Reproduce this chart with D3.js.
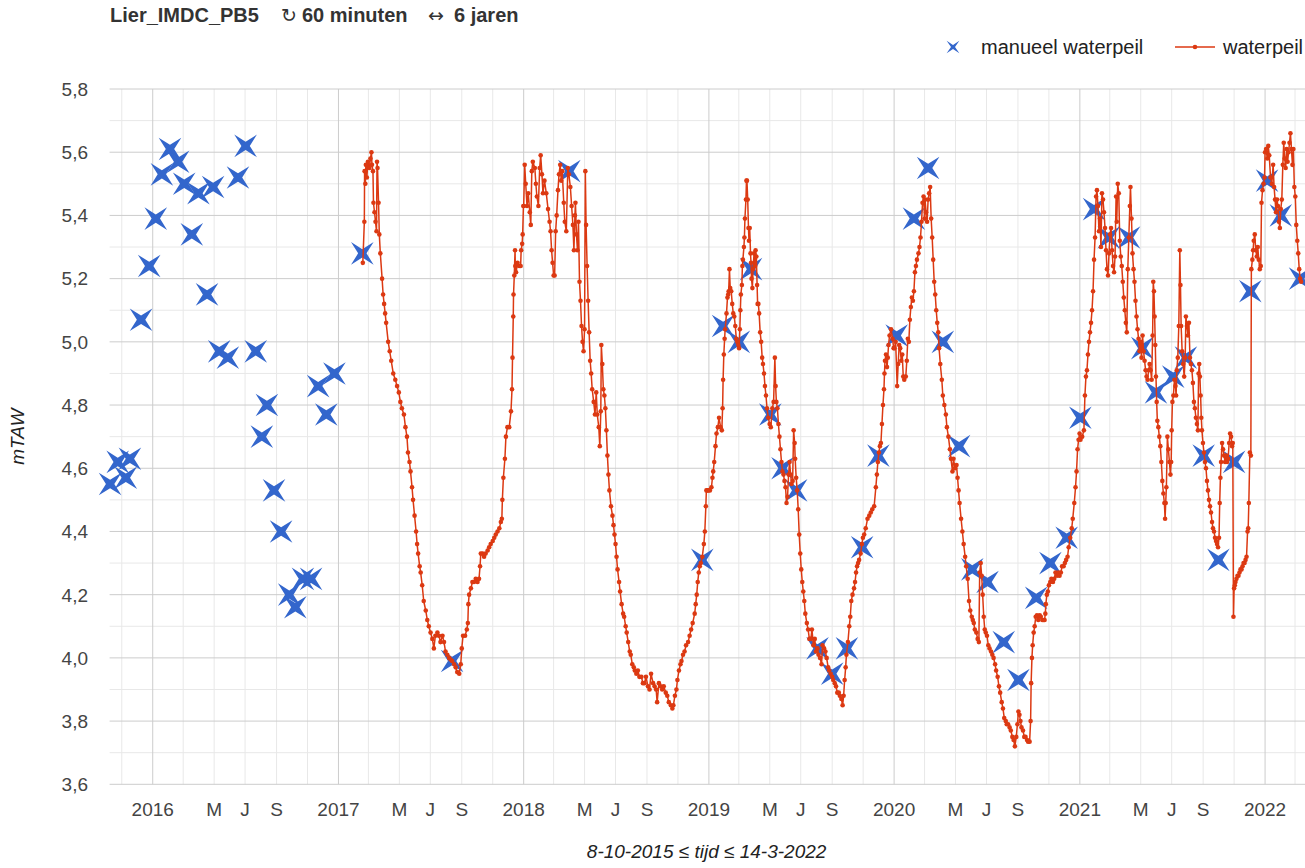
<!DOCTYPE html>
<html><head><meta charset="utf-8">
<script src="https://cdn.jsdelivr.net/npm/d3@7"></script>
<style>
body{margin:0;background:#fff;}
svg{display:block;font-family:"Liberation Sans",Arial,sans-serif;}
</style>
</head><body>
<svg id="chart" width="1305" height="868"></svg>
<script>
// ---------- texts ----------
const titleName = "Lier_IMDC_PB5";
const titleSymbols = ["\u21BB", "\u2194"];
const titleTexts = ["60 minuten", "6 jaren"];
const xTitle = "8-10-2015 \u2264 tijd \u2264 14-3-2022";
const yTitle = "mTAW";
const seriesNames = ["manueel waterpeil", "waterpeil"];

// ---------- axes ----------
const xDomain = ["2015-10-08", "2022-03-14"];
const yDomain = [3.6, 5.8];
const yTickValues = [3.6, 3.8, 4.0, 4.2, 4.4, 4.6, 4.8, 5.0, 5.2, 5.4, 5.6, 5.8];
const xTickDates = ["2016-01-01","2016-05-01","2016-07-01","2016-09-01",
  "2017-01-01","2017-05-01","2017-07-01","2017-09-01",
  "2018-01-01","2018-05-01","2018-07-01","2018-09-01",
  "2019-01-01","2019-05-01","2019-07-01","2019-09-01",
  "2020-01-01","2020-05-01","2020-07-01","2020-09-01",
  "2021-01-01","2021-05-01","2021-07-01","2021-09-01",
  "2022-01-01"];
const xTickLabels = ["2016","M","J","S","2017","M","J","S","2018","M","J","S",
  "2019","M","J","S","2020","M","J","S","2021","M","J","S","2022"];

// ---------- series: manueel waterpeil ----------
const manueelDates = ["2015-10-09","2015-10-24","2015-11-09","2015-11-17","2015-12-09","2015-12-25",
  "2016-01-07","2016-01-19","2016-02-04","2016-02-20","2016-03-03","2016-03-18","2016-03-31",
  "2016-04-17","2016-04-29","2016-05-11","2016-05-28","2016-06-17","2016-07-02","2016-07-22",
  "2016-08-03","2016-08-13","2016-08-27","2016-09-10","2016-09-26","2016-10-08","2016-10-23",
  "2016-11-08","2016-11-22","2016-12-08","2016-12-24","2017-02-17","2017-08-13","2018-04-01",
  "2018-12-19","2019-01-29","2019-03-01","2019-03-25","2019-05-02","2019-05-26","2019-06-22",
  "2019-08-03","2019-09-01","2019-09-30","2019-10-30","2019-12-01","2020-01-06","2020-02-09",
  "2020-03-08","2020-04-06","2020-05-08","2020-06-03","2020-07-03","2020-08-04","2020-09-02",
  "2020-10-07","2020-11-04","2020-12-06","2021-01-02","2021-01-29","2021-02-27","2021-04-08",
  "2021-05-04","2021-05-31","2021-07-04","2021-07-29","2021-09-02","2021-10-01","2021-11-01",
  "2021-12-03","2022-01-05","2022-02-01","2022-03-11"];
const manueelValues = [4.55,4.62,4.57,4.63,5.07,5.24,
  5.39,5.53,5.61,5.57,5.50,5.34,5.47,
  5.15,5.49,4.97,4.95,5.52,5.62,4.97,
  4.70,4.80,4.53,4.40,4.20,4.16,4.25,
  4.25,4.86,4.77,4.90,5.28,3.99,5.54,
  4.31,5.05,5.00,5.23,4.77,4.60,4.53,
  4.03,3.95,4.03,4.35,4.64,5.02,5.39,
  5.55,5.00,4.67,4.28,4.24,4.05,3.93,
  4.19,4.30,4.38,4.76,5.42,5.33,5.33,
  4.98,4.84,4.89,4.95,4.64,4.31,4.62,
  5.16,5.51,5.40,5.20];

// ---------- series: waterpeil, [day of year, mTAW] per year ----------
const waterpeil2017 = [[48,5.25],[51,5.38],[51.5,5.54],[53,5.50],[54,5.56],[56,5.52],[58,5.57],[61,5.55],[63,5.58],[65,5.60],[66,5.56],[68,5.54],[69,5.44],[71,5.41],[73,5.38],[75,5.35],[76,5.57],[77,5.55],[79,5.44],[80.5,5.34],[82.5,5.28],[86,5.20],[88,5.15],[90,5.12],[92,5.09],[94,5.06],[98,5.00],[101,4.97],[104,4.94],[108,4.90],[112,4.88],[115.5,4.86],[119,4.84],[122,4.81],[125,4.79],[129,4.77],[132,4.73],[135,4.70],[137,4.65],[140,4.62],[142,4.59],[145,4.54],[147,4.50],[150,4.45],[153,4.40],[155,4.36],[157,4.33],[160,4.29],[162,4.27],[165,4.23],[168,4.18],[172,4.15],[175,4.12],[178,4.10],[181.5,4.08],[185,4.06],[188,4.03],[191,4.07],[195,4.08],[198,4.07],[201,4.05],[205,4.07],[208,4.05],[211,4.02],[214.5,4.01],[218,4.00],[221,3.995],[224,3.99],[228,3.98],[231,3.97],[234,3.955],[238,3.95],[241,3.98],[243,4.03],[245.5,4.07],[249.5,4.07],[253,4.09],[255,4.11],[256,4.17],[257.5,4.20],[261,4.22],[264,4.24],[267,4.24],[270.5,4.25],[274,4.24],[277,4.25],[279,4.29],[280.5,4.33],[284,4.33],[287,4.32],[290,4.33],[294,4.34],[297,4.35],[300,4.36],[304,4.37],[307,4.38],[310,4.39],[313.5,4.40],[317,4.41],[320,4.43],[322,4.44],[323,4.50],[325,4.57],[328,4.63],[330,4.70],[333,4.73],[336.5,4.73],[340,4.78],[342,4.85],[343,4.95],[344.5,5.08],[345,5.15],[346.5,5.21],[348,5.29],[348.5,5.24],[350,5.22],[353,5.25],[356,5.24],[359,5.24],[360,5.29],[362,5.31],[363,5.34],[364.5,5.43]];
const waterpeil2018 = [[0,5.43],[2,5.56],[4,5.50],[6.6,5.43],[9,5.47],[12,5.41],[14,5.37],[16,5.54],[18,5.57],[22,5.55],[24,5.50],[26,5.46],[29,5.43],[31.5,5.55],[33.5,5.59],[36,5.53],[38,5.47],[41,5.51],[44.6,5.47],[48,5.42],[51,5.38],[53,5.35],[55,5.29],[57,5.25],[59,5.21],[61,5.21],[63,5.35],[65,5.40],[67.6,5.48],[69.6,5.53],[72,5.56],[74,5.51],[76,5.54],[79,5.44],[81,5.38],[84,5.35],[87,5.55],[89,5.53],[92,5.49],[94.5,5.43],[97,5.37],[99,5.29],[101,5.40],[102,5.44],[104,5.34],[106,5.29],[108,5.38],[110,5.19],[112,5.13],[114,5.05],[116,5.00],[118,4.97],[120,5.04],[121.5,5.54],[123,5.37],[125,5.24],[127,5.13],[129,5.03],[131,4.94],[133,4.90],[135,4.85],[138,4.81],[140.5,4.77],[143,4.84],[145,4.77],[148,4.73],[150,4.67],[152,4.78],[153,4.99],[155,4.93],[157,4.85],[159,4.83],[161,4.79],[163,4.72],[165,4.64],[167,4.58],[169,4.53],[172,4.48],[175,4.45],[177,4.42],[179,4.39],[181,4.36],[183,4.32],[185,4.28],[188,4.24],[190,4.21],[193,4.17],[196,4.14],[198,4.13],[201,4.10],[203,4.08],[206,4.05],[209,4.02],[211,4.01],[214,3.98],[217,3.97],[219,3.96],[222,3.95],[225,3.96],[228,3.94],[232,3.94],[235,3.92],[238,3.92],[241,3.94],[245,3.91],[248,3.90],[251,3.95],[255,3.92],[258,3.91],[261,3.90],[263,3.86],[266.5,3.92],[270,3.91],[273,3.90],[276,3.91],[280,3.89],[283,3.88],[286,3.86],[290,3.85],[293,3.84],[295,3.85],[298,3.88],[301,3.90],[303,3.93],[306,3.96],[309,3.98],[311,3.99],[314,4.01],[317,4.02],[320,4.04],[324,4.05],[327,4.07],[330,4.09],[333,4.11],[337,4.14],[339,4.17],[341,4.20],[343,4.24],[345,4.27],[347,4.29],[349,4.30],[352,4.32],[355,4.36],[357,4.40],[359,4.48],[360,4.53],[362,4.53],[364,4.53]];
const waterpeil2019 = [[2,4.53],[5,4.54],[7,4.57],[8.5,4.59],[10.5,4.62],[13,4.67],[15,4.71],[17.7,4.73],[20,4.76],[23,4.73],[25.5,4.72],[27,4.79],[28,4.88],[29.4,4.96],[31,5.01],[32,5.04],[34.7,5.09],[36.6,5.14],[38,5.15],[39,5.16],[40.5,5.23],[42,5.17],[44,5.16],[46,5.12],[48,5.09],[50,5.08],[52,5.05],[54,5.01],[56,5.00],[58,4.99],[59.5,4.98],[61,5.04],[62,5.10],[63,5.15],[65,5.18],[66,5.24],[67,5.26],[69,5.30],[70,5.33],[71,5.39],[73,5.45],[74,5.51],[75,5.51],[76.5,5.45],[78,5.36],[79,5.32],[80.4,5.36],[82,5.28],[83,5.25],[84,5.20],[85.7,5.17],[87,5.23],[89,5.28],[91,5.24],[92,5.29],[93.5,5.27],[95,5.18],[96,5.12],[97.5,5.12],[99,5.09],[101,5.03],[103,5.00],[105,4.95],[106.6,4.93],[108.6,4.90],[110.5,4.86],[112.5,4.83],[114.5,4.79],[117,4.76],[119.7,4.74],[122,4.73],[125,4.79],[127.5,4.81],[130,4.95],[131.5,4.86],[133,4.81],[135,4.79],[137,4.74],[139,4.70],[141,4.66],[143,4.62],[145,4.59],[147,4.58],[149,4.56],[151,4.54],[153,4.49],[155,4.51],[157,4.58],[159,4.62],[161,4.58],[163,4.55],[165,4.56],[167,4.72],[169,4.68],[170,4.63],[172,4.57],[174,4.53],[176,4.47],[178,4.39],[180,4.33],[182,4.28],[184,4.24],[186,4.21],[188,4.18],[190,4.14],[193,4.11],[195.5,4.09],[198,4.06],[201,4.06],[203,4.09],[206,4.04],[208.6,4.06],[211,4.02],[214,4.03],[216,4.01],[219,4.00],[222,3.98],[224,4.04],[227,4.03],[229.6,4.02],[232,4.00],[235,3.97],[237,3.96],[240,3.95],[243,3.94],[245,3.93],[248,3.92],[250.5,3.91],[253,3.89],[256,3.89],[258,3.88],[261,3.87],[263.5,3.85],[265.5,3.88],[267.5,3.93],[269.5,3.97],[271,4.01],[274,4.05],[276.6,4.10],[278.6,4.13],[280.6,4.18],[283,4.20],[286,4.22],[288,4.24],[290,4.27],[292,4.29],[294,4.30],[296,4.31],[299,4.33],[301.5,4.36],[303.5,4.38],[306,4.39],[309,4.41],[312.6,4.44],[316,4.45],[319,4.46],[322,4.47],[325.7,4.48],[329,4.54],[331,4.58],[333,4.62],[335,4.65],[337,4.67],[339,4.68],[341,4.74],[343,4.80],[345,4.85],[346,4.90],[347,4.94],[349,4.96],[351,4.92],[352.5,4.95],[354,4.99],[356,5.02],[359,5.04],[362,5.01],[364,4.98]];
const waterpeil2020 = [[0.6,4.98],[3,5.00],[6,4.86],[8,4.93],[10,4.99],[12,4.98],[14,4.94],[16,4.96],[18,4.89],[20,4.88],[23,4.89],[25,4.94],[27,5.01],[29,5.00],[31,5.07],[33,5.11],[35,5.14],[37,5.13],[39,5.16],[41,5.22],[43,5.24],[45,5.26],[48,5.28],[50,5.30],[52,5.33],[54,5.38],[56,5.44],[58,5.46],[60,5.39],[61,5.45],[63,5.41],[65,5.38],[67,5.45],[69,5.47],[71,5.49],[73,5.39],[75,5.33],[77,5.26],[79,5.19],[81,5.15],[83,5.10],[85,5.06],[87,5.03],[88.6,4.98],[91,4.93],[94,4.88],[96,4.83],[99,4.80],[102,4.77],[104,4.73],[107,4.70],[110,4.66],[112,4.63],[115,4.59],[117,4.63],[120,4.60],[123,4.61],[125,4.57],[127,4.53],[129,4.49],[132,4.44],[134.5,4.40],[137,4.36],[140,4.32],[142,4.29],[145,4.25],[147.6,4.18],[150,4.15],[153,4.13],[155,4.12],[157,4.11],[159,4.09],[162,4.08],[164.6,4.06],[167,4.05],[168.6,4.27],[170.6,4.30],[172.5,4.26],[174.5,4.20],[176.6,4.13],[178.6,4.09],[180.6,4.08],[183,4.07],[185.6,4.04],[188,4.03],[191,4.02],[193.5,4.01],[196,4.00],[199,3.98],[201,3.96],[204,3.94],[206.6,3.91],[209,3.89],[212,3.86],[214.5,3.84],[217,3.81],[220,3.80],[222,3.79],[224.6,3.79],[227.6,3.78],[230,3.77],[233,3.75],[235.5,3.74],[238,3.72],[240.7,3.75],[243,3.79],[245,3.83],[247,3.82],[249,3.80],[251,3.78],[254,3.77],[256.5,3.75],[259,3.75],[262,3.74],[264,3.735],[267,3.735],[269,3.80],[270,3.92],[271.6,4.00],[273,4.04],[275,4.08],[277,4.10],[279,4.13],[281.5,4.135],[284,4.12],[287,4.135],[289,4.13],[292,4.12],[294.5,4.12],[296.5,4.12],[298,4.14],[299,4.17],[301,4.20],[303,4.21],[305,4.23],[307.7,4.24],[310,4.25],[313,4.24],[315.5,4.25],[318,4.27],[321,4.26],[323.5,4.27],[326,4.26],[328.6,4.27],[331,4.29],[334,4.29],[336.5,4.30],[339,4.31],[341.8,4.32],[344,4.35],[347,4.38],[350,4.41],[352,4.44],[355,4.49],[357.5,4.54],[359.5,4.59],[361.5,4.66],[363.5,4.69],[365.5,4.71]];
const waterpeil2021 = [[1.3,4.69],[4.6,4.70],[8,4.72],[10,4.83],[12,4.89],[14,4.91],[16,4.96],[18,5.00],[20,5.03],[22,5.06],[24,5.10],[26,5.16],[28,5.26],[30,5.33],[32,5.46],[33.7,5.48],[35.7,5.43],[37.7,5.35],[39.7,5.39],[41.6,5.30],[43.6,5.47],[45.6,5.45],[47.6,5.41],[49.6,5.36],[51.6,5.29],[53.5,5.23],[55.5,5.21],[57.5,5.28],[59.5,5.34],[61.5,5.36],[63.5,5.29],[65.4,5.24],[67.4,5.22],[69.4,5.27],[71.4,5.46],[72.7,5.38],[74.7,5.50],[76.7,5.47],[78.7,5.32],[80.6,5.27],[82.6,5.24],[84.6,5.19],[86.6,5.14],[88.6,5.10],[90.6,5.06],[92.5,5.03],[94.5,5.23],[96.5,5.33],[98.5,5.43],[99.8,5.49],[101.8,5.39],[103.8,5.28],[105.8,5.23],[107.7,5.19],[109.7,5.13],[111.7,5.08],[113.7,5.04],[115.7,5.01],[117.7,4.97],[119.6,5.00],[121.6,4.95],[123.6,5.02],[125.6,4.97],[127.6,4.94],[129.6,4.91],[131.5,4.89],[133.5,4.88],[135.5,4.91],[137.5,4.93],[139.5,4.91],[141.5,4.88],[143.4,5.02],[144.7,5.19],[146,5.16],[147.4,5.08],[148.7,4.99],[150,4.89],[151.4,4.81],[152.7,4.75],[154.7,4.73],[156.6,4.70],[158.6,4.67],[160.6,4.62],[162.6,4.56],[164.6,4.52],[166.6,4.49],[168,4.44],[169.2,4.49],[170.5,4.54],[172.5,4.70],[174.5,4.66],[176.5,4.62],[178.5,4.58],[180,4.62],[181,4.72],[182.4,4.81],[184.4,4.83],[186.4,4.88],[188.4,4.86],[189.7,4.83],[191,4.91],[193,4.95],[195,5.05],[197,5.29],[198.3,5.18],[199.6,5.05],[201.6,4.97],[203.6,4.93],[205.6,4.89],[207.6,4.95],[209,5.08],[211,5.05],[213,5.02],[215,5.06],[217,4.95],[218.8,4.93],[220.8,4.91],[222.8,4.87],[224.8,4.81],[226.7,4.79],[228.7,4.76],[230.7,4.74],[232.7,4.72],[234,4.90],[235.3,4.93],[236.6,4.89],[238,4.83],[239.3,4.76],[240.6,4.72],[242.6,4.68],[244.6,4.65],[246.6,4.62],[248.6,4.60],[250.5,4.56],[252.5,4.53],[254.5,4.50],[256.5,4.48],[258.5,4.46],[260.5,4.43],[262.4,4.41],[264.4,4.40],[266.4,4.38],[268.4,4.37],[270.4,4.36],[272.3,4.35],[274.3,4.38],[275.6,4.49],[277,4.57],[278.3,4.62],[280.3,4.68],[282.2,4.66],[284.2,4.64],[286.2,4.62],[288.2,4.64],[290.2,4.62],[292.2,4.63],[294.2,4.68],[296.1,4.71],[298,4.70],[300,4.67],[301.4,4.68],[302.7,4.13],[304,4.22],[305.4,4.23],[306.7,4.24],[308.7,4.25],[310.7,4.26],[312.6,4.26],[314.6,4.27],[316.6,4.28],[318.6,4.28],[320.6,4.29],[322.6,4.30],[324.6,4.30],[326.5,4.31],[328.5,4.32],[330.5,4.40],[331.8,4.41],[333,4.49],[335,4.65],[337,4.64],[338,5.23],[340,5.26],[341.4,5.29],[342.7,5.32],[344.7,5.34],[346.7,5.29],[348.7,5.27],[350.6,5.30],[352.6,5.26],[354.6,5.23],[356.6,5.24],[358,5.44],[360,5.48],[362,5.50],[364,5.52]];
const waterpeil2022 = [[0,5.60],[2,5.61],[4.4,5.58],[6.3,5.62],[8.2,5.59],[10.8,5.52],[13.3,5.50],[15.9,5.56],[17.8,5.49],[19.7,5.45],[21.6,5.41],[23.5,5.45],[25.4,5.43],[27.3,5.38],[29.2,5.36],[31,5.42],[33,5.45],[35,5.56],[36.8,5.63],[38.7,5.58],[40.6,5.55],[42.5,5.61],[44.4,5.57],[46.3,5.60],[48.2,5.63],[50,5.66],[52,5.61],[54,5.56],[55.8,5.61],[57.7,5.49],[59.6,5.46],[61.5,5.37],[63.5,5.32],[65.4,5.28],[67.3,5.23],[69.2,5.20],[71,5.19]];

// ---------- build ----------
const DAY = 86400000;
const parse = s => new Date(s + "T00:00:00Z");
const manueel = manueelDates.map((d, i) => ({t: parse(d), v: manueelValues[i]}));
const yearly = [[2017, waterpeil2017],[2018, waterpeil2018],[2019, waterpeil2019],
                [2020, waterpeil2020],[2021, waterpeil2021],[2022, waterpeil2022]];
const waterpeil = [];
yearly.forEach(([yr, arr]) => arr.forEach(([d, v]) =>
  waterpeil.push({t: new Date(Date.UTC(yr, 0, 1) + d * DAY), v})));

const W = 1305, H = 868;
const plot = {left: 109.6, right: 1301.6, top: 89, bottom: 784.3};
const x = d3.scaleUtc().domain(xDomain.map(parse)).range([plot.left, plot.right]);
const y = d3.scaleLinear().domain(yDomain).range([plot.bottom, plot.top]);

const svg = d3.select("#chart");
const BLUE = "#3366cc", RED = "#dc3912";
const MAJOR = "#cccccc", MINOR = "#e8e8e8";
const fmt = v => d3.format(".1f")(v).replace(".", ",");

// grid
const g = svg.append("g");
const minorY = d3.range(36, 59).map(k => k / 10);
minorY.forEach((v, i) => {
  if (i % 2 === 1) g.append("line").attr("x1", plot.left).attr("x2", W).attr("y1", y(v)).attr("y2", y(v))
    .attr("stroke", MINOR).attr("stroke-width", 1);
});
const vTicks = d3.utcMonth.every(2).range(x.domain()[0], x.domain()[1]);
vTicks.forEach(t => {
  if (t.getUTCMonth() !== 0) g.append("line").attr("x1", x(t)).attr("x2", x(t))
    .attr("y1", plot.top).attr("y2", plot.bottom).attr("stroke", MINOR).attr("stroke-width", 1);
});
vTicks.forEach(t => {
  if (t.getUTCMonth() === 0) g.append("line").attr("x1", x(t)).attr("x2", x(t))
    .attr("y1", plot.top).attr("y2", plot.bottom).attr("stroke", MAJOR).attr("stroke-width", 1);
});
yTickValues.forEach(v => {
  g.append("line").attr("x1", plot.left).attr("x2", W).attr("y1", y(v)).attr("y2", y(v))
    .attr("stroke", MAJOR).attr("stroke-width", 1);
});

// y tick labels
svg.append("g").selectAll("text").data(yTickValues).join("text")
  .attr("x", 88).attr("y", d => y(d)).attr("dy", "0.36em")
  .attr("text-anchor", "end").attr("font-size", 19).attr("fill", "#444")
  .text(fmt);

// x tick labels
svg.append("g").selectAll("text").data(xTickDates).join("text")
  .attr("x", d => x(parse(d))).attr("y", 816)
  .attr("text-anchor", "middle").attr("font-size", 19).attr("fill", "#444")
  .text((d, i) => xTickLabels[i]);

// axis titles
svg.append("text").attr("x", (plot.left + plot.right) / 2 + 1).attr("y", 858)
  .attr("text-anchor", "middle").attr("font-size", 19).attr("font-style", "italic").attr("fill", "#222")
  .text(xTitle);
svg.append("text").attr("transform", `translate(24,${(plot.top + plot.bottom) / 2}) rotate(-90)`)
  .attr("text-anchor", "middle").attr("font-size", 19).attr("font-style", "italic").attr("fill", "#222")
  .text(yTitle);

// title
svg.append("text").attr("x", 110).attr("y", 22).attr("font-size", 20)
  .attr("font-weight", "bold").attr("fill", "#333").text(titleName);
[281, 428].forEach((px, i) => {
  svg.append("text").attr("x", px).attr("y", 22).attr("font-size", 19)
    .attr("font-family", "'DejaVu Sans', sans-serif").attr("fill", "#333").text(titleSymbols[i]);
});
[302, 454].forEach((px, i) => {
  svg.append("text").attr("x", px).attr("y", 22).attr("font-size", 20)
    .attr("font-weight", "bold").attr("fill", "#333").text(titleTexts[i]);
});

// star marker
function star(R, r) {
  const pts = [];
  for (let i = 0; i < 8; i++) {
    const a = Math.PI / 4 + i * Math.PI / 4;
    const rad = i % 2 === 0 ? R : r;
    pts.push([rad * Math.cos(a), rad * Math.sin(a)]);
  }
  return "M" + pts.map(p => p[0].toFixed(2) + "," + p[1].toFixed(2)).join("L") + "Z";
}

// manueel markers
svg.append("g").selectAll("path").data(manueel).join("path")
  .attr("transform", d => `translate(${x(d.t)},${y(d.v)})`)
  .attr("d", star(16, 4.2)).attr("fill", BLUE);

// waterpeil line + points
svg.append("path").datum(waterpeil)
  .attr("d", d3.line().x(d => x(d.t)).y(d => y(d.v)))
  .attr("fill", "none").attr("stroke", RED).attr("stroke-width", 1.5).attr("stroke-linejoin", "round");
svg.append("g").selectAll("circle").data(waterpeil).join("circle")
  .attr("cx", d => x(d.t)).attr("cy", d => y(d.v)).attr("r", 2.3).attr("fill", RED);

// legend
const lg = svg.append("g");
lg.append("path").attr("transform", "translate(953,47)").attr("d", star(9, 2)).attr("fill", BLUE);
lg.append("text").attr("x", 981).attr("y", 54).attr("font-size", 20).attr("fill", "#222").text(seriesNames[0]);
lg.append("line").attr("x1", 1175).attr("x2", 1215).attr("y1", 47).attr("y2", 47).attr("stroke", RED).attr("stroke-width", 1.5);
lg.append("circle").attr("cx", 1195).attr("cy", 47).attr("r", 2.3).attr("fill", RED);
lg.append("text").attr("x", 1223).attr("y", 54).attr("font-size", 20).attr("fill", "#222").text(seriesNames[1]);
</script>
</body></html>
